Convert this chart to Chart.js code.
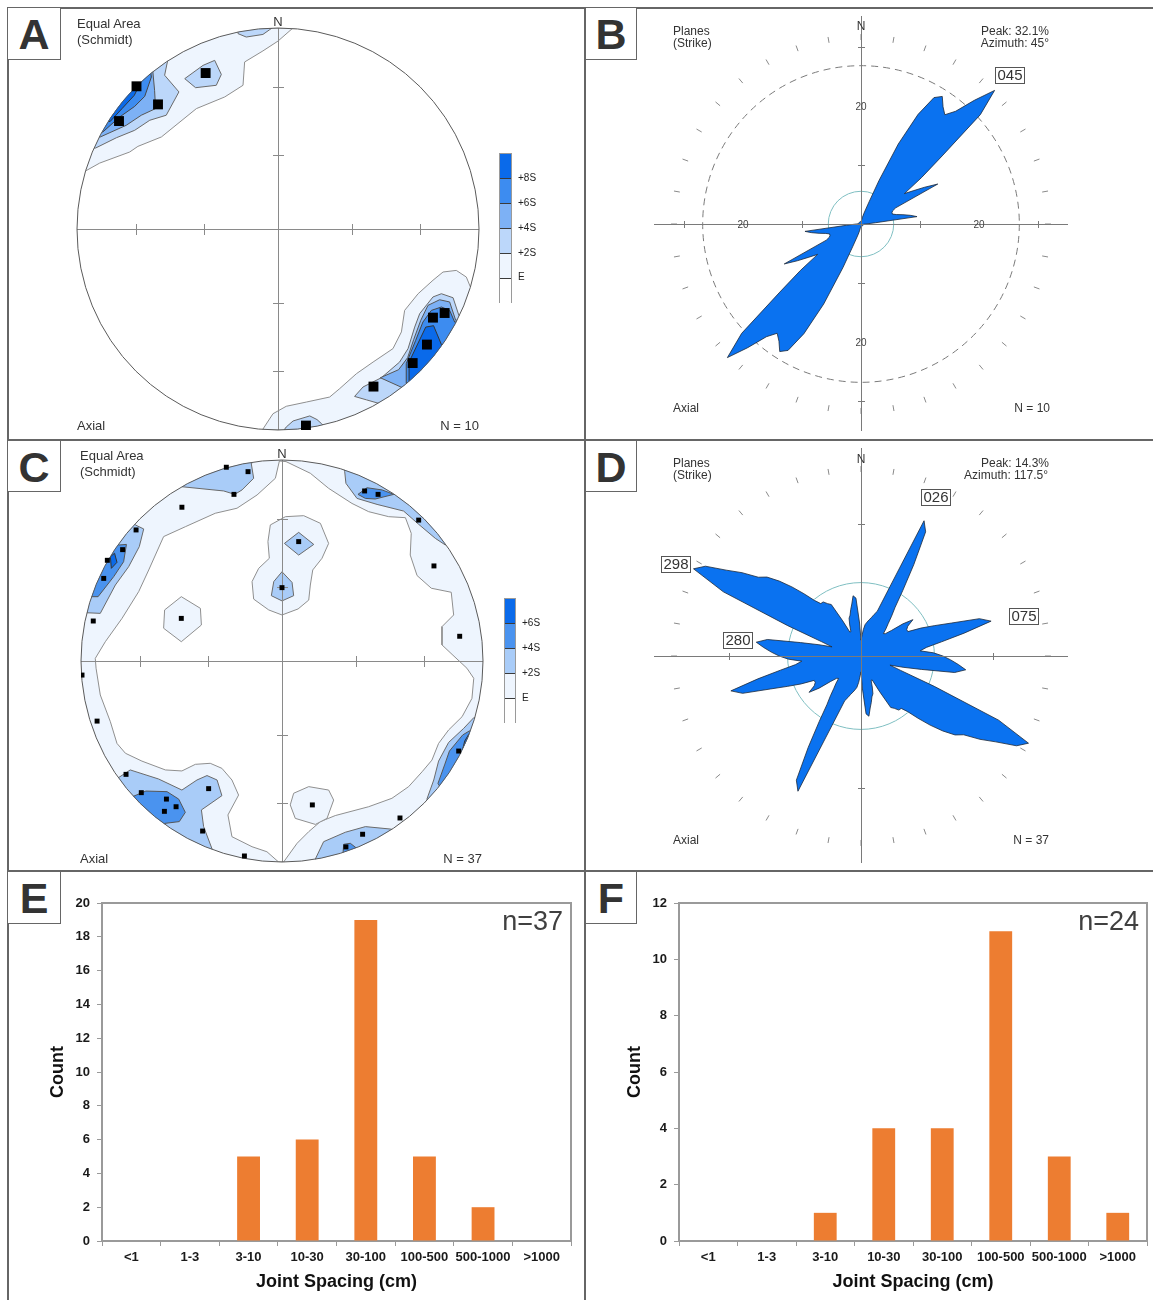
<!DOCTYPE html>
<html>
<head>
<meta charset="utf-8">
<title>Joint orientations and spacing</title>
<script src="https://cdn.jsdelivr.net/npm/chart.js@4/dist/chart.umd.min.js"></script>
<style>
html,body{margin:0;padding:0;background:#fff;}
#fig{position:relative;width:1153px;height:1300px;overflow:hidden;font-family:'Liberation Sans',Arial,Helvetica,sans-serif;color:#333;}
canvas{position:absolute;}
.ln{position:absolute;background:#666;z-index:5;}
.t{position:absolute;white-space:nowrap;font-size:13px;line-height:13px;z-index:6;}
.s12{font-size:12px;line-height:12px;}
.lg{font-size:10px;line-height:10px;color:#222;}
.c{transform:translateX(-50%);}
.big{font-size:27px;line-height:27px;color:#404040;}
.box{position:absolute;box-sizing:border-box;border-right:1.5px solid #666;border-bottom:1.5px solid #666;text-align:center;font-weight:bold;font-size:43px;color:#333;z-index:6;background:#fff;}
.tag{position:absolute;box-sizing:border-box;border:1.5px solid #555;font-size:15px;text-align:center;color:#333;background:#fff;z-index:6;}
.cbar{position:absolute;box-sizing:border-box;border:1px solid #9a9a9a;z-index:6;}
.cbar div{box-sizing:border-box;height:25px;border-bottom:1px solid #3a3a3a;}
.cbar div:last-child{border-bottom:none;}
</style>
</head>
<body>
<div id="fig">
  <canvas id="cA" width="577" height="432" style="left:8px;top:8px;width:577px;height:432px"></canvas>
  <canvas id="cB" width="568" height="432" style="left:585px;top:8px;width:568px;height:432px"></canvas>
  <canvas id="cC" width="577" height="430" style="left:8px;top:440px;width:577px;height:430px"></canvas>
  <canvas id="cD" width="568" height="430" style="left:585px;top:440px;width:568px;height:430px"></canvas>
  <canvas id="cE" width="577" height="430" style="left:8px;top:870px;width:577px;height:430px"></canvas>
  <canvas id="cF" width="568" height="430" style="left:585px;top:870px;width:568px;height:430px"></canvas>

  <!-- panel frame -->
  <div class="ln" style="left:7px;top:7px;width:1146px;height:2px"></div>
  <div class="ln" style="left:7px;top:7px;width:2px;height:1293px"></div>
  <div class="ln" style="left:584px;top:7px;width:2px;height:1293px"></div>
  <div class="ln" style="left:7px;top:439px;width:1146px;height:2px"></div>
  <div class="ln" style="left:7px;top:870px;width:1146px;height:2px"></div>

  <!-- panel letters -->
  <div class="box" style="left:8px;top:8px;width:53px;height:52px;line-height:52px">A</div>
  <div class="box" style="left:586px;top:8px;width:51px;height:52px;line-height:52px">B</div>
  <div class="box" style="left:8px;top:441px;width:53px;height:51px;line-height:52px">C</div>
  <div class="box" style="left:586px;top:441px;width:51px;height:51px;line-height:52px">D</div>
  <div class="box" style="left:8px;top:872px;width:53px;height:52px;line-height:52px">E</div>
  <div class="box" style="left:586px;top:872px;width:51px;height:52px;line-height:52px">F</div>

  <!-- A: stereonet labels -->
  <div class="t" style="left:77px;top:17px">Equal Area</div>
  <div class="t" style="left:77px;top:33px">(Schmidt)</div>
  <div class="t c" style="left:278px;top:15px">N</div>
  <div class="t" style="left:77px;top:419px">Axial</div>
  <div class="t" style="right:674px;top:419px">N = 10</div>
  <div class="cbar" style="left:499px;top:153px;width:13px;height:150px">
    <div style="background:#0a6aea"></div><div style="background:#3d8cf0"></div><div style="background:#7db1f5"></div><div style="background:#bcd7fa"></div><div style="background:#eef5fe"></div><div style="background:#ffffff"></div>
  </div>
  <div class="t lg" style="left:518px;top:173px">+8S</div>
  <div class="t lg" style="left:518px;top:198px">+6S</div>
  <div class="t lg" style="left:518px;top:223px">+4S</div>
  <div class="t lg" style="left:518px;top:248px">+2S</div>
  <div class="t lg" style="left:518px;top:272px">E</div>

  <!-- B: rose labels -->
  <div class="t s12 c" style="left:861px;top:20px">N</div>
  <div class="t s12" style="left:673px;top:25px">Planes</div>
  <div class="t s12" style="left:673px;top:37px">(Strike)</div>
  <div class="t s12" style="right:104px;top:25px">Peak: 32.1%</div>
  <div class="t s12" style="right:104px;top:37px">Azimuth: 45°</div>
  <div class="t s12" style="left:673px;top:402px">Axial</div>
  <div class="t s12" style="right:103px;top:402px">N = 10</div>
  <div class="tag" style="left:995px;top:67px;width:30px;height:17px;line-height:14px">045</div>

  <!-- C: stereonet labels -->
  <div class="t" style="left:80px;top:449px">Equal Area</div>
  <div class="t" style="left:80px;top:465px">(Schmidt)</div>
  <div class="t c" style="left:282px;top:447px">N</div>
  <div class="t" style="left:80px;top:852px">Axial</div>
  <div class="t" style="right:671px;top:852px">N = 37</div>
  <div class="cbar" style="left:504px;top:598px;width:12px;height:125px">
    <div style="background:#0a6aea"></div><div style="background:#4a93ef"></div><div style="background:#a9ccf8"></div><div style="background:#eef5fe"></div><div style="background:#ffffff"></div>
  </div>
  <div class="t lg" style="left:522px;top:618px">+6S</div>
  <div class="t lg" style="left:522px;top:643px">+4S</div>
  <div class="t lg" style="left:522px;top:668px">+2S</div>
  <div class="t lg" style="left:522px;top:693px">E</div>

  <!-- D: rose labels -->
  <div class="t s12 c" style="left:861px;top:453px">N</div>
  <div class="t s12" style="left:673px;top:457px">Planes</div>
  <div class="t s12" style="left:673px;top:469px">(Strike)</div>
  <div class="t s12" style="right:104px;top:457px">Peak: 14.3%</div>
  <div class="t s12" style="right:105px;top:469px">Azimuth: 117.5°</div>
  <div class="t s12" style="left:673px;top:834px">Axial</div>
  <div class="t s12" style="right:104px;top:834px">N = 37</div>
  <div class="tag" style="left:921px;top:489px;width:30px;height:17px;line-height:14px">026</div>
  <div class="tag" style="left:661px;top:556px;width:30px;height:17px;line-height:14px">298</div>
  <div class="tag" style="left:1009px;top:608px;width:30px;height:17px;line-height:14px">075</div>
  <div class="tag" style="left:723px;top:632px;width:30px;height:17px;line-height:14px">280</div>

  <!-- E / F sample counts -->
  <div class="t big" style="right:590px;top:908px">n=37</div>
  <div class="t big" style="right:14px;top:908px">n=24</div>
</div>

<script>
// ---------- Equal-area net, set 1 (N = 10): poles, unit-circle net coordinates ----------
const polesA = [[-0.704,0.710],[-0.597,0.620],[-0.791,0.537],[-0.360,0.776],[0.771,-0.441],
                [0.829,-0.418],[0.741,-0.575],[0.670,-0.667],[0.475,-0.784],[0.139,-0.978]];

// density contours (polygons, clipped to the primitive circle)
const contA_E = [
  [[-0.957,0.289],[-0.887,0.328],[-0.738,0.383],[-0.697,0.411],[-0.580,0.458],[-0.406,0.599],[-0.265,0.657],[-0.174,0.715],[-0.166,0.831],[-0.075,0.886],[0,0.935],[0.071,0.997],[0.12,1],[-1,1],[-1,0.289]],
  [[-0.076,-0.997],[-0.025,-0.919],[0.041,-0.882],[0.141,-0.861],[0.257,-0.836],[0.307,-0.794],[0.390,-0.720],[0.473,-0.662],[0.572,-0.595],[0.614,-0.512],[0.630,-0.405],[0.697,-0.322],[0.771,-0.255],[0.821,-0.214],[0.887,-0.206],[0.937,-0.239],[0.957,-0.288],[1,-0.288],[1,-1],[-0.076,-1]]
];
const contA_2S = [
  [[-0.907,0.403],[-0.804,0.454],[-0.713,0.491],[-0.638,0.541],[-0.556,0.566],[-0.493,0.682],[-0.564,0.765],[-0.551,0.828],[-0.55,1],[-1,1],[-1,0.403]],
  [[-0.199,0.972],[-0.158,0.955],[-0.075,0.968],[-0.041,0.992],[-0.03,1],[-0.2,1]],
  [[-0.464,0.748],[-0.373,0.814],[-0.315,0.839],[-0.282,0.769],[-0.307,0.715],[-0.410,0.703]],
  [[0.381,-0.833],[0.423,-0.786],[0.514,-0.740],[0.605,-0.662],[0.647,-0.595],[0.680,-0.488],[0.705,-0.421],[0.771,-0.338],[0.813,-0.322],[0.871,-0.342],[0.900,-0.430],[1,-0.43],[1,-1],[0.55,-1],[0.51,-0.87],[0.44,-0.85]],
  [[0.041,-0.985],[0.075,-0.955],[0.158,-0.930],[0.194,-0.948],[0.216,-0.968],[0.25,-1],[0.03,-1]]
];
const contA_4S = [
  [[-0.884,0.458],[-0.755,0.516],[-0.680,0.566],[-0.609,0.599],[-0.614,0.690],[-0.622,0.776],[-0.64,1],[-1,1],[-1,0.458]],
  [[0.509,-0.740],[0.600,-0.700],[0.645,-0.640],[0.675,-0.550],[0.710,-0.455],[0.746,-0.380],[0.804,-0.352],[0.854,-0.363],[0.884,-0.454],[1,-0.454],[1,-1],[0.72,-1],[0.62,-0.79]]
];
const contA_6S = [
  [[-0.871,0.483],[-0.788,0.557],[-0.713,0.610],[-0.663,0.660],[-0.630,0.756],[-0.66,1],[-1,1],[-1,0.483]],
  [[0.640,-0.768],[0.638,-0.670],[0.685,-0.554],[0.721,-0.463],[0.763,-0.405],[0.813,-0.388],[0.854,-0.405],[0.879,-0.463],[1,-0.463],[1,-1],[0.75,-1],[0.66,-0.78]]
];
const contA_8S = [
  [[-0.835,0.535],[-0.775,0.600],[-0.715,0.665],[-0.690,0.715],[-0.75,1],[-1,1],[-1,0.535]],
  [[0.652,-0.756],[0.652,-0.662],[0.735,-0.488],[0.774,-0.481],[0.813,-0.575],[1,-0.575],[1,-1],[0.75,-1],[0.67,-0.77]]
];

// ---------- Equal-area net, set 2 (N = 37) ----------
const polesC = [[-0.277,0.964],[-0.169,0.942],[-0.239,0.829],[-0.498,0.765],[-0.726,0.652],[-0.793,0.554],
  [-0.869,0.501],[-0.887,0.411],[-0.939,0.199],[-0.501,0.212],[0.083,0.594],[0,0.365],[0.411,0.846],
  [0.478,0.829],[0.680,0.701],[0.756,0.473],[0.884,0.123],[-0.995,-0.070],[-0.920,-0.299],[-0.776,-0.564],
  [-0.700,-0.655],[-0.575,-0.687],[-0.527,-0.725],[-0.585,-0.748],[-0.365,-0.635],[-0.395,-0.846],
  [-0.187,-0.970],[0.151,-0.716],[0.879,-0.448],[0.587,-0.781],[0.401,-0.862],[0.318,-0.925]];

const contC_E = [[[-1,-1],[1,-1],[1,1],[-1,1]]];
const contC_below = [[
  [0.020,0.992],[0.141,0.934],[0.232,0.859],[0.348,0.784],[0.431,0.743],[0.531,0.718],[0.614,0.713],[0.643,0.635],
  [0.638,0.527],[0.672,0.425],[0.743,0.362],[0.842,0.342],[0.854,0.229],[0.796,0.171],[0.796,0.080],[0.846,0.033],
  [0.920,-0.036],[0.954,-0.086],[0.945,-0.186],[0.896,-0.277],[0.829,-0.343],[0.779,-0.410],[0.746,-0.493],
  [0.697,-0.551],[0.630,-0.625],[0.547,-0.683],[0.431,-0.725],[0.265,-0.769],[0.191,-0.799],[0.133,-0.849],
  [0.075,-0.907],[0.008,-1.0],[-0.017,-1.0],[-0.075,-0.949],[-0.149,-0.924],[-0.249,-0.874],[-0.269,-0.766],
  [-0.216,-0.667],[-0.249,-0.592],[-0.299,-0.534],[-0.357,-0.509],[-0.431,-0.514],[-0.498,-0.547],[-0.580,-0.542],
  [-0.697,-0.498],[-0.779,-0.459],[-0.821,-0.410],[-0.854,-0.302],[-0.904,-0.169],[-0.925,-0.036],[-0.929,0.013],
  [-0.879,0.096],[-0.796,0.212],[-0.713,0.345],[-0.663,0.453],[-0.589,0.619],[-0.481,0.668],[-0.332,0.735],
  [-0.224,0.760],[-0.124,0.826],[-0.033,0.909],[-0.013,0.995]
]];
const contC_Eisl = [
  [[-0.501,0.320],[-0.406,0.262],[-0.401,0.179],[-0.501,0.096],[-0.589,0.163],[-0.584,0.254]],
  [[-0.058,0.677],[0.017,0.718],[0.108,0.723],[0.191,0.685],[0.232,0.585],[0.199,0.511],[0.153,0.453],[0.141,0.378],[0.133,0.303],[0.080,0.259],[0,0.229],[-0.066,0.254],[-0.141,0.308],[-0.149,0.395],[-0.116,0.461],[-0.063,0.511],[-0.070,0.594]],
  [[0.133,-0.625],[0.232,-0.642],[0.257,-0.692],[0.224,-0.783],[0.166,-0.813],[0.066,-0.783],[0.041,-0.716],[0.058,-0.658]]
];
const contC_2S = [
  [[-0.498,0.867],[-0.290,0.846],[-0.235,0.829],[-0.199,0.851],[-0.141,0.909],[-0.153,0.983],[-0.15,1],[-0.55,1]],
  [[-0.730,0.677],[-0.688,0.657],[-0.710,0.569],[-0.763,0.469],[-0.829,0.378],[-0.904,0.237],[-0.97,0.24],[-1,0.24],[-1,0.7],[-0.75,0.7]],
  [[0.312,0.942],[0.318,0.884],[0.373,0.809],[0.473,0.779],[0.605,0.746],[0.680,0.680],[0.763,0.610],[0.813,0.577],[0.83,0.6],[1,1],[0.3,1]],
  [[0.012,0.585],[0.083,0.640],[0.158,0.580],[0.083,0.527]],
  [[0,0.444],[0.050,0.391],[0.058,0.325],[0,0.299],[-0.053,0.325],[-0.041,0.395]],
  [[-0.813,-0.580],[-0.755,-0.542],[-0.614,-0.587],[-0.498,-0.642],[-0.423,-0.592],[-0.373,-0.570],[-0.323,-0.592],[-0.299,-0.670],[-0.401,-0.741],[-0.390,-0.824],[-0.348,-0.935],[-0.35,-1],[-1,-1],[-1,-0.58]],
  [[0.166,-0.985],[0.207,-0.899],[0.315,-0.852],[0.415,-0.824],[0.539,-0.836],[0.6,-0.85],[0.6,-1],[0.17,-1]],
  [[0.721,-0.687],[0.755,-0.592],[0.779,-0.498],[0.829,-0.405],[0.904,-0.335],[0.954,-0.282],[1,-0.28],[1,-0.75],[0.75,-0.75]]
];
const contC_4S = [
  [[-0.813,0.577],[-0.774,0.580],[-0.788,0.494],[-0.837,0.420],[-0.915,0.320],[-0.95,0.32],[-1,0.32],[-1,0.6],[-0.83,0.6]],
  [[0.378,0.829],[0.423,0.862],[0.498,0.851],[0.556,0.829],[0.464,0.806],[0.415,0.809]],
  [[-0.725,-0.667],[-0.677,-0.647],[-0.572,-0.650],[-0.514,-0.687],[-0.481,-0.753],[-0.511,-0.799],[-0.584,-0.808],[-0.6,-0.85],[-0.8,-0.7]],
  [[0.776,-0.609],[0.809,-0.517],[0.833,-0.448],[0.899,-0.368],[0.932,-0.348],[0.96,-0.35],[1,-0.35],[1,-0.65],[0.8,-0.65]],
  [[0.307,-0.912],[0.340,-0.907],[0.368,-0.929],[0.37,-1],[0.3,-1]]
];
const contC_6S = [
  [[-0.854,0.519],[-0.833,0.536],[-0.821,0.491],[-0.849,0.461]],
  [[0.909,-0.398],[0.929,-0.365],[1,-0.365],[1,-0.47],[0.892,-0.468]]
];

// equal-area radii of the 60° and 30° plunge marks on the net axes
const netTicks = [0.366, 0.707];

// ---------- Rose diagrams: strike frequency (%) per 2.5° azimuth, 0–177.5° (axial) ----------
const roseB = [0.5,0.5,0.5,0.6,0.8,1.2,1.8,2.5,
               4.0,8.0,15.0,21.0,24.8,25.7,24.3,23.4,
               25.0,28.5,32.1,27.5,18.0,13.0,9.0,10.5,
               12.5,14.7,6.5,5.8,5.6,5.6,6.2,7.3,
               8.5,9.6,2.5,1.2,0.8,
               0.5,0.5,0.4,0.4,0.4,0.4,0.4,0.4,0.4,0.4,0.4,0.4,0.4,0.4,0.4,0.4,0.4,0.4,
               0.4,0.4,0.4,0.4,0.4,0.4,0.4,0.4,0.4,0.4,0.4,0.4,0.4,0.4,0.4,0.4,0.5];
const roseD = [1.2,1.5,2.0,2.4,2.6,2.8,3.0,3.3,
               3.6,5.5,11.3,10.6,8.0,5.9,4.5,3.8,
               3.2,2.8,2.4,2.5,3.0,4.0,4.8,4.2,
               4.0,4.0,5.0,6.0,7.3,9.4,10.2,8.0,
               6.2,5.0,4.5,5.5,6.2,6.8,7.4,8.0,
               7.2,4.7,3.3,2.3,3.2,6.0,11.5,14.3,
               13.6,12.1,11.0,9.8,9.3,8.4,7.4,6.4,
               5.5,5.0,5.0,4.7,4.5,3.0,2.0,2.0,
               2.5,3.0,3.2,3.6,4.0,4.6,4.4,2.5];
const roseStep = 2.5;
const azimuths = Array.from({length: 360 / roseStep}, (_, i) => (i * roseStep).toFixed(1));

// ---------- Joint spacing histograms ----------
const spacingBins = ['<1', '1-3', '3-10', '10-30', '30-100', '100-500', '500-1000', '>1000'];
const countsE = [0, 0, 5, 6, 19, 5, 2, 0];
const countsF = [0, 0, 1, 4, 4, 11, 3, 1];

// =====================================================================
Chart.defaults.font.family = "'Liberation Sans', Arial, Helvetica, sans-serif";
Chart.defaults.color = '#1a1a1a';
Chart.defaults.animation = false;

// Stereonet: clip contours to the primitive, then draw axes, marks and circle under the poles
const netPlugin = {
  id: 'netFrame',
  beforeDatasetsDraw(chart) {
    const {x, y} = chart.scales, ctx = chart.ctx;
    const cx = x.getPixelForValue(0), cy = y.getPixelForValue(0);
    ctx.save();
    ctx.beginPath();
    ctx.ellipse(cx, cy, x.getPixelForValue(1) - cx, cy - y.getPixelForValue(1), 0, 0, Math.PI * 2);
    ctx.clip();
    chart.$netClip = true;
  },
  beforeDatasetDraw(chart, args, opts) {
    if (!chart.data.datasets[args.index].poles) return;
    const ctx = chart.ctx;
    if (chart.$netClip) { ctx.restore(); chart.$netClip = false; }
    const {x, y} = chart.scales;
    const X = v => x.getPixelForValue(v), Y = v => y.getPixelForValue(v);
    const cx = X(0), cy = Y(0), rx = X(1) - cx, ry = cy - Y(1);
    ctx.save();
    ctx.lineWidth = 1;
    ctx.strokeStyle = '#8a8a8a';
    ctx.beginPath();
    ctx.moveTo(X(-1), Math.round(cy) + 0.5); ctx.lineTo(X(1), Math.round(cy) + 0.5);
    ctx.moveTo(Math.round(cx) + 0.5, Y(1)); ctx.lineTo(Math.round(cx) + 0.5, Y(-1));
    for (const t of opts.ticks) {
      for (const s of [-1, 1]) {
        const px = Math.round(X(s * t)) + 0.5, py = Math.round(Y(s * t)) + 0.5;
        ctx.moveTo(px, cy - 5); ctx.lineTo(px, cy + 6);
        ctx.moveTo(cx - 5, py); ctx.lineTo(cx + 6, py);
      }
    }
    ctx.stroke();
    ctx.strokeStyle = '#5a5a5a';
    ctx.beginPath();
    ctx.ellipse(cx, cy, rx, ry, 0, 0, Math.PI * 2);
    ctx.stroke();
    ctx.restore();
  },
  afterDatasetsDraw(chart) {
    if (chart.$netClip) { chart.ctx.restore(); chart.$netClip = false; }
  }
};

function polyDataset(pts, fillColor, edgeColor) {
  const data = pts.map(([x, y]) => ({x, y}));
  data.push({x: pts[0][0], y: pts[0][1]});
  return {
    type: 'line', data, backgroundColor: fillColor,
    borderColor: edgeColor || fillColor, borderWidth: edgeColor ? 1 : 0,
    fill: 'shape', pointRadius: 0, pointHoverRadius: 0, tension: 0
  };
}

function makeNet(id, layers, poles, poleRadius, padding) {
  const seq = [];
  layers.forEach(l => l.polys.forEach(p => seq.push(polyDataset(p, l.color, l.edge))));
  seq.push({
    type: 'scatter', poles: true,
    data: poles.map(([x, y]) => ({x, y})),
    pointStyle: 'rect', pointRadius: poleRadius, pointHoverRadius: poleRadius,
    backgroundColor: '#000', borderColor: '#000', borderWidth: 0
  });
  seq.forEach((ds, i) => { ds.order = seq.length - i; });
  return new Chart(document.getElementById(id), {
    type: 'scatter',
    data: {datasets: seq},
    options: {
      responsive: false, animation: false, events: [], devicePixelRatio: 1,
      layout: {padding},
      scales: {
        x: {type: 'linear', min: -1, max: 1, display: false},
        y: {type: 'linear', min: -1, max: 1, display: false}
      },
      plugins: {legend: {display: false}, tooltip: {enabled: false}, netFrame: {ticks: netTicks}}
    },
    plugins: [netPlugin]
  });
}

makeNet('cA', [
  {polys: contA_E, color: '#eef5fe', edge: '#8f8f8f'},
  {polys: contA_2S, color: '#bcd7fa', edge: '#6a6a6a'},
  {polys: contA_4S, color: '#7db1f5', edge: '#555'},
  {polys: contA_6S, color: '#3d8cf0', edge: '#444'},
  {polys: contA_8S, color: '#0a6aea', edge: '#333'}
], polesA, 7, {left: 69, right: 106, top: 20, bottom: 10});

makeNet('cC', [
  {polys: contC_E, color: '#eef5fe', edge: null},
  {polys: contC_below, color: '#ffffff', edge: '#8f8f8f'},
  {polys: contC_Eisl, color: '#eef5fe', edge: '#8f8f8f'},
  {polys: contC_2S, color: '#a9ccf8', edge: '#6a6a6a'},
  {polys: contC_4S, color: '#4a93ef', edge: '#555'},
  {polys: contC_6S, color: '#0a6aea', edge: '#333'}
], polesC, 3.5, {left: 73, right: 102, top: 20, bottom: 8});

// Rose frame: azimuth ticks, reference circles behind the petals; cross axes and scale on top
const rosePlugin = {
  id: 'roseFrame',
  beforeDatasetsDraw(chart, args, o) {
    const s = chart.scales.r, ctx = chart.ctx;
    const xc = s.xCenter, yc = s.yCenter, R = s.drawingArea;
    ctx.save();
    ctx.lineWidth = 1;
    ctx.strokeStyle = '#8a8a8a';
    ctx.beginPath();
    for (let a = 0; a < 360; a += 10) {
      const t = a * Math.PI / 180, ux = Math.sin(t), uy = -Math.cos(t);
      ctx.moveTo(xc + ux * R * 0.893, yc + uy * R * 0.893);
      ctx.lineTo(xc + ux * R * 0.922, yc + uy * R * 0.922);
    }
    ctx.stroke();
    if (o.ring) {
      ctx.setLineDash([7, 5]);
      ctx.strokeStyle = '#7a7a7a';
      ctx.beginPath();
      ctx.arc(xc, yc, s.getDistanceFromCenterForValue(o.ring), 0, Math.PI * 2);
      ctx.stroke();
      ctx.setLineDash([]);
    }
    ctx.strokeStyle = '#7fbfc2';
    ctx.beginPath();
    ctx.arc(xc, yc, s.getDistanceFromCenterForValue(o.uniform), 0, Math.PI * 2);
    ctx.stroke();
    ctx.restore();
  },
  afterDatasetsDraw(chart, args, o) {
    const s = chart.scales.r, ctx = chart.ctx;
    const xc = s.xCenter, yc = s.yCenter, R = s.drawingArea;
    ctx.save();
    ctx.lineWidth = 1;
    ctx.strokeStyle = '#7a7a7a';
    ctx.beginPath();
    ctx.moveTo(xc - R - 1, yc + 0.5); ctx.lineTo(xc + R + 1, yc + 0.5);
    ctx.moveTo(xc + 0.5, yc - R - 2); ctx.lineTo(xc + 0.5, yc + R + 1);
    const labels = [];
    for (let v = o.step; v < s.max; v += o.step) {
      const d = Math.round(s.getDistanceFromCenterForValue(v));
      if (v % o.labelEvery === 0) { labels.push([v, d]); continue; }
      ctx.moveTo(xc + d + 0.5, yc - 3); ctx.lineTo(xc + d + 0.5, yc + 4);
      ctx.moveTo(xc - d + 0.5, yc - 3); ctx.lineTo(xc - d + 0.5, yc + 4);
      ctx.moveTo(xc - 3, yc - d + 0.5); ctx.lineTo(xc + 4, yc - d + 0.5);
      ctx.moveTo(xc - 3, yc + d + 0.5); ctx.lineTo(xc + 4, yc + d + 0.5);
    }
    ctx.stroke();
    ctx.fillStyle = '#444';
    ctx.font = "10px 'Liberation Sans', Arial, sans-serif";
    ctx.textAlign = 'center';
    ctx.textBaseline = 'middle';
    for (const [v, d] of labels) {
      ctx.fillText(String(v), xc + d, yc + 1);
      ctx.fillText(String(v), xc - d, yc + 1);
      ctx.fillText(String(v), xc, yc - d + 1);
      ctx.fillText(String(v), xc, yc + d + 1);
    }
    ctx.restore();
  }
};

function makeRose(id, half, maxPct, padding, frame) {
  // axial data: every strike plots at θ and θ + 180°
  const full = half.concat(half);
  return new Chart(document.getElementById(id), {
    type: 'radar',
    data: {
      labels: azimuths,
      datasets: [{
        data: full, backgroundColor: '#0a72f0', borderColor: '#1d2a3a', borderWidth: 0.8,
        pointRadius: 0, pointHoverRadius: 0, fill: true
      }]
    },
    options: {
      responsive: false, animation: false, events: [], devicePixelRatio: 1,
      layout: {padding},
      elements: {line: {tension: 0}},
      scales: {r: {display: false, min: 0, max: maxPct, startAngle: 0}},
      plugins: {legend: {display: false}, tooltip: {enabled: false}, roseFrame: frame}
    },
    plugins: [rosePlugin]
  });
}

makeRose('cB', roseB, 35, {left: 70, right: 86, top: 10, bottom: 10},
         {uniform: 5.56, ring: 26.9, step: 10, labelEvery: 20});
makeRose('cD', roseD, 15.6, {left: 70, right: 86, top: 10, bottom: 8},
         {uniform: 5.56, ring: 0, step: 10, labelEvery: 20});

// Histogram frame: top and right edges of the plot box
const boxPlugin = {
  id: 'plotBox',
  afterDraw(chart) {
    const {top, right, bottom, left} = chart.chartArea, ctx = chart.ctx;
    ctx.save();
    ctx.strokeStyle = '#9a9a9a';
    ctx.lineWidth = 2;
    ctx.beginPath();
    ctx.moveTo(left - 1, top);
    ctx.lineTo(right, top);
    ctx.lineTo(right, bottom + 1);
    ctx.stroke();
    ctx.restore();
  }
};

function makeBars(id, counts, yMax, padding) {
  const tickFont = {size: 13, weight: 'bold'};
  const titleFont = {size: 18, weight: 'bold'};
  return new Chart(document.getElementById(id), {
    type: 'bar',
    data: {
      labels: spacingBins,
      datasets: [{data: counts, backgroundColor: '#ed7d31', borderWidth: 0,
                   barPercentage: 0.39, categoryPercentage: 1}]
    },
    options: {
      responsive: false, animation: false, events: [], devicePixelRatio: 1,
      layout: {padding},
      scales: {
        x: {
          grid: {display: true, drawOnChartArea: false, tickLength: 5, color: '#9a9a9a', offset: true},
          border: {color: '#9a9a9a', width: 2},
          ticks: {font: tickFont, color: '#1a1a1a', padding: 4, maxRotation: 0, autoSkip: false},
          title: {display: true, text: 'Joint Spacing (cm)', font: titleFont, color: '#111',
                  padding: {top: 0, bottom: 7}},
          afterFit: s => { s.height = 59; }
        },
        y: {
          min: 0, max: yMax,
          grid: {drawOnChartArea: false, tickLength: 5, color: '#9a9a9a'},
          border: {color: '#9a9a9a', width: 2},
          ticks: {stepSize: 2, font: tickFont, color: '#1a1a1a', padding: 7},
          title: {display: true, text: 'Count', font: titleFont, color: '#111',
                  padding: {top: 5, bottom: 0}},
          afterFit: s => { s.width = 60; }
        }
      },
      plugins: {legend: {display: false}, tooltip: {enabled: false}}
    },
    plugins: [boxPlugin]
  });
}

makeBars('cE', countsE, 20, {left: 34, right: 14, top: 33, bottom: 0});
makeBars('cF', countsF, 12, {left: 34, right: 6, top: 33, bottom: 0});
</script>
</body>
</html>
